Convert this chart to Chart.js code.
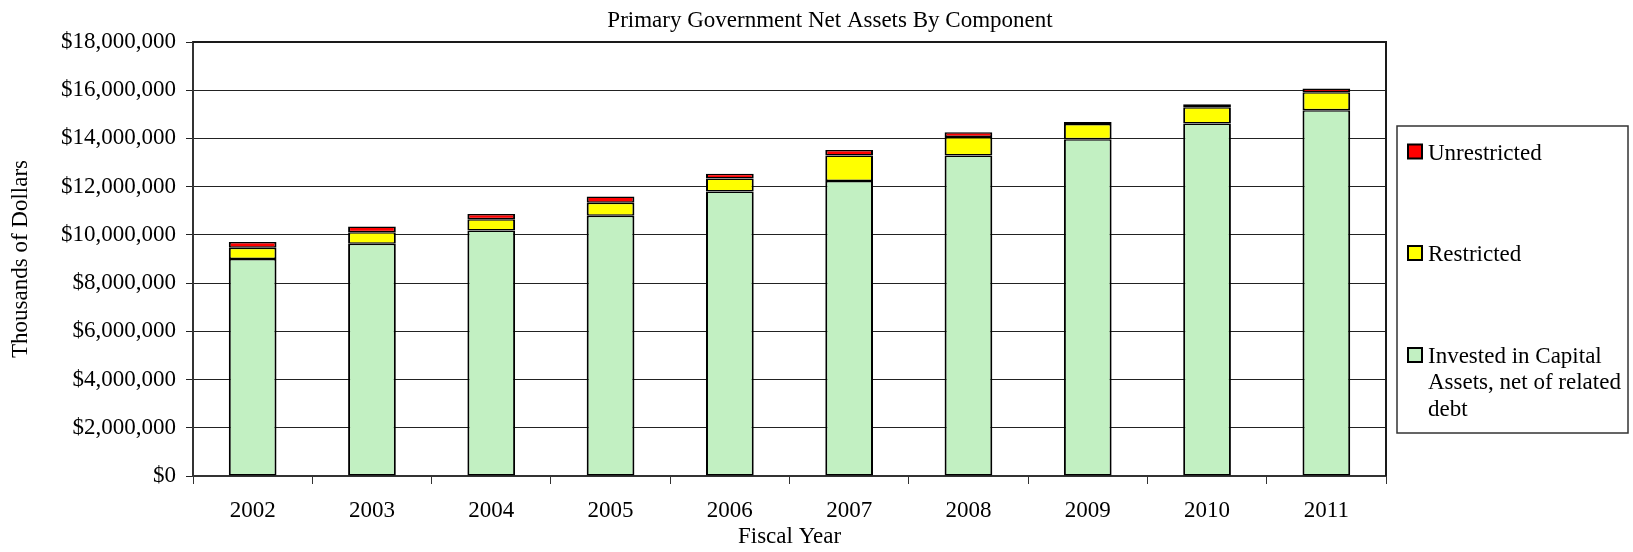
<!DOCTYPE html>
<html>
<head>
<meta charset="utf-8">
<title>Primary Government Net Assets By Component</title>
<script src="https://cdn.jsdelivr.net/npm/chart.js@4.4.1/dist/chart.umd.min.js"></script>
<style>
  html, body { margin: 0; padding: 0; background: #fff; }
  #wrap { width: 1633px; height: 552px; }
</style>
</head>
<body>
<div id="wrap"><canvas id="chart" width="1633" height="552"></canvas></div>
<script>
// Fiscal years on the category axis
const years = ['2002', '2003', '2004', '2005', '2006', '2007', '2008', '2009', '2010', '2011'];

// Net asset components, in thousands of dollars
const investedInCapital = [9000000, 9630000, 10180000, 10790000, 11800000, 12230000, 13290000, 13970000, 14620000, 15170000];
const restricted        = [470000, 480000, 470000, 540000, 540000, 1060000, 770000, 630000, 670000, 750000];
const unrestricted      = [240000, 240000, 220000, 260000, 200000, 230000, 200000, 80000, 130000, 150000];

// Value axis ticks
const yTicks = [0, 2000000, 4000000, 6000000, 8000000, 10000000, 12000000, 14000000, 16000000, 18000000];

const chartTitle = 'Primary Government Net Assets By Component';
const xTitle = 'Fiscal Year';
const yTitle = 'Thousands of Dollars';

const SERIF = '"Liberation Serif", "Times New Roman", serif';
Chart.defaults.font.family = SERIF;
Chart.defaults.font.size = 23;
Chart.defaults.color = '#000';

// Soft horizontal shading for the green columns
function greenFill(ctx) {
  const chart = ctx.chart;
  const el = ctx.element;
  if (!chart.chartArea || !el || !isFinite(el.x) || !isFinite(el.width)) return '#c2f0c2';
  const g = chart.ctx.createLinearGradient(el.x - el.width / 2, 0, el.x + el.width / 2, 0);
  g.addColorStop(0, '#bcecbc');
  g.addColorStop(0.5, '#c9fcc9');
  g.addColorStop(1, '#bcecbc');
  return g;
}

// Plot frame, centred title and boxed legend on the right
const decorations = {
  id: 'decorations',
  beforeDatasetsDraw(chart) {
    const { ctx, chartArea: a } = chart;
    ctx.save();
    ctx.strokeStyle = '#1a1a1a';
    ctx.lineWidth = 2;
    ctx.beginPath();
    ctx.moveTo(a.left, a.top);
    ctx.lineTo(a.right, a.top);
    ctx.lineTo(a.right, a.bottom);
    ctx.stroke();
    ctx.restore();
  },
  afterDraw(chart) {
    const { ctx } = chart;
    ctx.save();
    ctx.fillStyle = '#000';
    ctx.font = '23px ' + SERIF;
    ctx.textAlign = 'center';
    ctx.textBaseline = 'alphabetic';
    ctx.fillText(chartTitle, 830, 27);

    // legend box
    const box = { left: 1397, top: 126, right: 1628, bottom: 433 };
    ctx.strokeStyle = '#333';
    ctx.lineWidth = 1.5;
    ctx.strokeRect(box.left, box.top, box.right - box.left, box.bottom - box.top);

    const baselines = [159.5, 261, 363];
    const lineStep = 26.3;
    const textX = 1428;
    const maxW = 198;
    ctx.textAlign = 'left';
    const sets = chart.data.datasets.slice().reverse();
    sets.forEach((ds, i) => {
      const base = baselines[i];
      // swatch
      ctx.fillStyle = '#000';
      ctx.fillRect(1407, base - 16, 16, 16);
      ctx.fillStyle = ds.legendColor;
      ctx.fillRect(1409, base - 14, 12, 12);
      // wrapped label
      ctx.fillStyle = '#000';
      const words = ds.label.split(' ');
      const lines = [];
      let cur = '';
      words.forEach(w => {
        const t = cur ? cur + ' ' + w : w;
        if (ctx.measureText(t).width > maxW && cur) { lines.push(cur); cur = w; }
        else cur = t;
      });
      if (cur) lines.push(cur);
      lines.forEach((ln, k) => ctx.fillText(ln, textX, base + k * lineStep));
    });
    ctx.restore();
  }
};

const common = {
  borderColor: '#000',
  borderWidth: { top: 1.5, bottom: 1.5, left: 2, right: 2 },
  borderSkipped: false,
  inflateAmount: 0,
  barPercentage: 0.4,
  categoryPercentage: 1.0
};

new Chart(document.getElementById('chart'), {
  type: 'bar',
  data: {
    labels: years,
    datasets: [
      Object.assign({ label: 'Invested in Capital Assets, net of related debt', data: investedInCapital, backgroundColor: greenFill, legendColor: '#c2f0c2' }, common),
      Object.assign({ label: 'Restricted', data: restricted, backgroundColor: '#ffff00', legendColor: '#ffff00' }, common),
      Object.assign({ label: 'Unrestricted', data: unrestricted, backgroundColor: '#ff0000', legendColor: '#ff0000' }, common)
    ]
  },
  options: {
    responsive: false,
    animation: false,
    devicePixelRatio: 1,
    layout: { padding: { top: 42, right: 247, bottom: 0, left: 0 } },
    plugins: {
      legend: { display: false },
      title: { display: false },
      tooltip: { enabled: false }
    },
    scales: {
      x: {
        stacked: true,
        grid: { offset: true, drawOnChartArea: false, drawTicks: true, tickLength: 8, color: '#333', lineWidth: 1 },
        border: { color: '#333', width: 2 },
        ticks: { padding: 13, maxRotation: 0, font: { size: 23 } },
        title: { display: true, text: xTitle, font: { size: 23 }, padding: { top: 0, bottom: 1 } },
        afterFit(scale) { scale.height = 76; }
      },
      y: {
        stacked: true,
        min: 0,
        max: 18000000,
        afterBuildTicks(scale) { scale.ticks = yTicks.map(v => ({ value: v })); },
        grid: { color: '#222', lineWidth: 1, drawTicks: true, tickLength: 7 },
        border: { color: '#333', width: 2 },
        ticks: {
          padding: 10,
          font: { size: 23 },
          callback: v => '$' + Number(v).toLocaleString('en-US')
        },
        title: { display: true, text: yTitle, font: { size: 23 }, padding: { top: 7, bottom: 0 } },
        afterFit(scale) { scale.width = 193; }
      }
    }
  },
  plugins: [decorations]
});
</script>
</body>
</html>
